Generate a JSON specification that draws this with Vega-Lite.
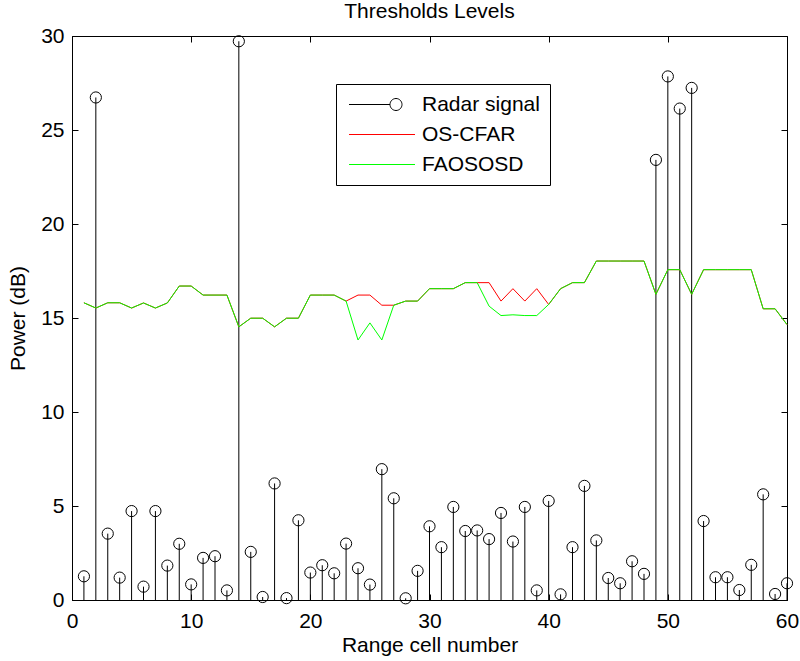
{
  "$schema": "https://vega.github.io/schema/vega-lite/v6.json",
  "width": 715,
  "height": 564,
  "autosize": {"type": "none"},
  "padding": {"left": 72, "top": 36, "right": 13, "bottom": 61},
  "background": "white",
  "title": {"text": "Thresholds Levels", "fontSize": 21, "font": "Liberation Sans", "fontWeight": "normal", "color": "black", "anchor": "middle", "baseline": "alphabetic", "offset": 0, "dy": 14, "frame": "group"},
  "config": {
    "font": "Liberation Sans",
    "view": {"stroke": "black", "strokeWidth": 1},
    "axis": {
      "grid": false,
      "domainColor": "black",
      "tickColor": "black",
      "tickWidth": 1,
      "tickSize": -6,
      "labelFontSize": 21,
      "labelColor": "black",
      "titleFontSize": 21,
      "titleFontWeight": "normal",
      "titleColor": "black",
      "labelFlush": false,
      "labelOverlap": false
    }
  },
  "datasets": {
    "radar": [
      {"cell": 1, "power": 1.26}, {"cell": 2, "power": 26.73}, {"cell": 3, "power": 3.53}, {"cell": 4, "power": 1.19},
      {"cell": 5, "power": 4.73}, {"cell": 6, "power": 0.71}, {"cell": 7, "power": 4.73}, {"cell": 8, "power": 1.83},
      {"cell": 9, "power": 2.99}, {"cell": 10, "power": 0.83}, {"cell": 11, "power": 2.24}, {"cell": 12, "power": 2.33},
      {"cell": 13, "power": 0.51}, {"cell": 14, "power": 29.72}, {"cell": 15, "power": 2.56}, {"cell": 16, "power": 0.16},
      {"cell": 17, "power": 6.2}, {"cell": 18, "power": 0.1}, {"cell": 19, "power": 4.24}, {"cell": 20, "power": 1.46},
      {"cell": 21, "power": 1.85}, {"cell": 22, "power": 1.42}, {"cell": 23, "power": 3.0}, {"cell": 24, "power": 1.69},
      {"cell": 25, "power": 0.82}, {"cell": 26, "power": 6.96}, {"cell": 27, "power": 5.41}, {"cell": 28, "power": 0.09},
      {"cell": 29, "power": 1.55}, {"cell": 30, "power": 3.92}, {"cell": 31, "power": 2.81}, {"cell": 32, "power": 4.95},
      {"cell": 33, "power": 3.67}, {"cell": 34, "power": 3.7}, {"cell": 35, "power": 3.24}, {"cell": 36, "power": 4.63},
      {"cell": 37, "power": 3.11}, {"cell": 38, "power": 4.95}, {"cell": 39, "power": 0.51}, {"cell": 40, "power": 5.27},
      {"cell": 41, "power": 0.3}, {"cell": 42, "power": 2.81}, {"cell": 43, "power": 6.07}, {"cell": 44, "power": 3.17},
      {"cell": 45, "power": 1.17}, {"cell": 46, "power": 0.89}, {"cell": 47, "power": 2.06}, {"cell": 48, "power": 1.39},
      {"cell": 49, "power": 23.41}, {"cell": 50, "power": 27.85}, {"cell": 51, "power": 26.14}, {"cell": 52, "power": 27.24},
      {"cell": 53, "power": 4.2}, {"cell": 54, "power": 1.21}, {"cell": 55, "power": 1.21}, {"cell": 56, "power": 0.53},
      {"cell": 57, "power": 1.87}, {"cell": 58, "power": 5.62}, {"cell": 59, "power": 0.32}, {"cell": 60, "power": 0.89}
    ],
    "thresholds": [
      {"cell": 1, "series": "OS-CFAR", "level": 15.81}, {"cell": 2, "series": "OS-CFAR", "level": 15.53},
      {"cell": 3, "series": "OS-CFAR", "level": 15.81}, {"cell": 4, "series": "OS-CFAR", "level": 15.81},
      {"cell": 5, "series": "OS-CFAR", "level": 15.53}, {"cell": 6, "series": "OS-CFAR", "level": 15.8},
      {"cell": 7, "series": "OS-CFAR", "level": 15.53}, {"cell": 8, "series": "OS-CFAR", "level": 15.8},
      {"cell": 9, "series": "OS-CFAR", "level": 16.7}, {"cell": 10, "series": "OS-CFAR", "level": 16.7},
      {"cell": 11, "series": "OS-CFAR", "level": 16.22}, {"cell": 12, "series": "OS-CFAR", "level": 16.22},
      {"cell": 13, "series": "OS-CFAR", "level": 16.22}, {"cell": 14, "series": "OS-CFAR", "level": 14.53},
      {"cell": 15, "series": "OS-CFAR", "level": 14.99}, {"cell": 16, "series": "OS-CFAR", "level": 14.99},
      {"cell": 17, "series": "OS-CFAR", "level": 14.53}, {"cell": 18, "series": "OS-CFAR", "level": 14.99},
      {"cell": 19, "series": "OS-CFAR", "level": 14.99}, {"cell": 20, "series": "OS-CFAR", "level": 16.22},
      {"cell": 21, "series": "OS-CFAR", "level": 16.22}, {"cell": 22, "series": "OS-CFAR", "level": 16.22},
      {"cell": 23, "series": "OS-CFAR", "level": 15.9}, {"cell": 24, "series": "OS-CFAR", "level": 16.22},
      {"cell": 25, "series": "OS-CFAR", "level": 16.22}, {"cell": 26, "series": "OS-CFAR", "level": 15.68},
      {"cell": 27, "series": "OS-CFAR", "level": 15.68}, {"cell": 28, "series": "OS-CFAR", "level": 15.9},
      {"cell": 29, "series": "OS-CFAR", "level": 15.9}, {"cell": 30, "series": "OS-CFAR", "level": 16.56},
      {"cell": 31, "series": "OS-CFAR", "level": 16.56}, {"cell": 32, "series": "OS-CFAR", "level": 16.56},
      {"cell": 33, "series": "OS-CFAR", "level": 16.88}, {"cell": 34, "series": "OS-CFAR", "level": 16.88},
      {"cell": 35, "series": "OS-CFAR", "level": 16.88}, {"cell": 36, "series": "OS-CFAR", "level": 15.9},
      {"cell": 37, "series": "OS-CFAR", "level": 16.56}, {"cell": 38, "series": "OS-CFAR", "level": 15.9},
      {"cell": 39, "series": "OS-CFAR", "level": 16.56}, {"cell": 40, "series": "OS-CFAR", "level": 15.72},
      {"cell": 41, "series": "OS-CFAR", "level": 16.56}, {"cell": 42, "series": "OS-CFAR", "level": 16.88},
      {"cell": 43, "series": "OS-CFAR", "level": 16.88}, {"cell": 44, "series": "OS-CFAR", "level": 18.03},
      {"cell": 45, "series": "OS-CFAR", "level": 18.03}, {"cell": 46, "series": "OS-CFAR", "level": 18.03},
      {"cell": 47, "series": "OS-CFAR", "level": 18.03}, {"cell": 48, "series": "OS-CFAR", "level": 18.03},
      {"cell": 49, "series": "OS-CFAR", "level": 16.26}, {"cell": 50, "series": "OS-CFAR", "level": 17.57},
      {"cell": 51, "series": "OS-CFAR", "level": 17.57}, {"cell": 52, "series": "OS-CFAR", "level": 16.26},
      {"cell": 53, "series": "OS-CFAR", "level": 17.57}, {"cell": 54, "series": "OS-CFAR", "level": 17.57},
      {"cell": 55, "series": "OS-CFAR", "level": 17.57}, {"cell": 56, "series": "OS-CFAR", "level": 17.57},
      {"cell": 57, "series": "OS-CFAR", "level": 17.57}, {"cell": 58, "series": "OS-CFAR", "level": 15.49},
      {"cell": 59, "series": "OS-CFAR", "level": 15.49}, {"cell": 60, "series": "OS-CFAR", "level": 14.65},
      {"cell": 1, "series": "FAOSOSD", "level": 15.81}, {"cell": 2, "series": "FAOSOSD", "level": 15.53},
      {"cell": 3, "series": "FAOSOSD", "level": 15.81}, {"cell": 4, "series": "FAOSOSD", "level": 15.81},
      {"cell": 5, "series": "FAOSOSD", "level": 15.53}, {"cell": 6, "series": "FAOSOSD", "level": 15.8},
      {"cell": 7, "series": "FAOSOSD", "level": 15.53}, {"cell": 8, "series": "FAOSOSD", "level": 15.8},
      {"cell": 9, "series": "FAOSOSD", "level": 16.7}, {"cell": 10, "series": "FAOSOSD", "level": 16.7},
      {"cell": 11, "series": "FAOSOSD", "level": 16.22}, {"cell": 12, "series": "FAOSOSD", "level": 16.22},
      {"cell": 13, "series": "FAOSOSD", "level": 16.22}, {"cell": 14, "series": "FAOSOSD", "level": 14.53},
      {"cell": 15, "series": "FAOSOSD", "level": 14.99}, {"cell": 16, "series": "FAOSOSD", "level": 14.99},
      {"cell": 17, "series": "FAOSOSD", "level": 14.53}, {"cell": 18, "series": "FAOSOSD", "level": 14.99},
      {"cell": 19, "series": "FAOSOSD", "level": 14.99}, {"cell": 20, "series": "FAOSOSD", "level": 16.22},
      {"cell": 21, "series": "FAOSOSD", "level": 16.22}, {"cell": 22, "series": "FAOSOSD", "level": 16.22},
      {"cell": 23, "series": "FAOSOSD", "level": 15.9}, {"cell": 24, "series": "FAOSOSD", "level": 13.83},
      {"cell": 25, "series": "FAOSOSD", "level": 14.74}, {"cell": 26, "series": "FAOSOSD", "level": 13.83},
      {"cell": 27, "series": "FAOSOSD", "level": 15.68}, {"cell": 28, "series": "FAOSOSD", "level": 15.9},
      {"cell": 29, "series": "FAOSOSD", "level": 15.9}, {"cell": 30, "series": "FAOSOSD", "level": 16.56},
      {"cell": 31, "series": "FAOSOSD", "level": 16.56}, {"cell": 32, "series": "FAOSOSD", "level": 16.56},
      {"cell": 33, "series": "FAOSOSD", "level": 16.88}, {"cell": 34, "series": "FAOSOSD", "level": 16.88},
      {"cell": 35, "series": "FAOSOSD", "level": 15.63}, {"cell": 36, "series": "FAOSOSD", "level": 15.13},
      {"cell": 37, "series": "FAOSOSD", "level": 15.17}, {"cell": 38, "series": "FAOSOSD", "level": 15.13},
      {"cell": 39, "series": "FAOSOSD", "level": 15.13}, {"cell": 40, "series": "FAOSOSD", "level": 15.72},
      {"cell": 41, "series": "FAOSOSD", "level": 16.56}, {"cell": 42, "series": "FAOSOSD", "level": 16.88},
      {"cell": 43, "series": "FAOSOSD", "level": 16.88}, {"cell": 44, "series": "FAOSOSD", "level": 18.03},
      {"cell": 45, "series": "FAOSOSD", "level": 18.03}, {"cell": 46, "series": "FAOSOSD", "level": 18.03},
      {"cell": 47, "series": "FAOSOSD", "level": 18.03}, {"cell": 48, "series": "FAOSOSD", "level": 18.03},
      {"cell": 49, "series": "FAOSOSD", "level": 16.26}, {"cell": 50, "series": "FAOSOSD", "level": 17.57},
      {"cell": 51, "series": "FAOSOSD", "level": 17.57}, {"cell": 52, "series": "FAOSOSD", "level": 16.26},
      {"cell": 53, "series": "FAOSOSD", "level": 17.57}, {"cell": 54, "series": "FAOSOSD", "level": 17.57},
      {"cell": 55, "series": "FAOSOSD", "level": 17.57}, {"cell": 56, "series": "FAOSOSD", "level": 17.57},
      {"cell": 57, "series": "FAOSOSD", "level": 17.57}, {"cell": 58, "series": "FAOSOSD", "level": 15.49},
      {"cell": 59, "series": "FAOSOSD", "level": 15.49}, {"cell": 60, "series": "FAOSOSD", "level": 14.65}
    ]
  },
  "resolve": {"axis": {"x": "independent", "y": "independent"}},
  "layer": [
    {
      "data": {"name": "radar"},
      "mark": {"type": "rule", "color": "black", "strokeWidth": 1},
      "encoding": {
        "x": {"field": "cell", "type": "quantitative", "scale": {"domain": [0, 60], "nice": false, "zero": false},
              "axis": {"values": [0, 10, 20, 30, 40, 50, 60], "title": "Range cell number", "labelPadding": 16, "titlePadding": 3, "format": "d"}},
        "y": {"field": "power", "type": "quantitative", "scale": {"domain": [0, 30], "nice": false},
              "axis": {"values": [0, 5, 10, 15, 20, 25, 30], "title": "Power (dB)", "labelPadding": 14, "titlePadding": 12, "format": "d"}},
        "y2": {"datum": 0}
      }
    },
    {
      "data": {"name": "radar"},
      "mark": {"type": "point", "shape": "circle", "filled": false, "size": 125, "stroke": "black", "strokeWidth": 1, "opacity": 1},
      "encoding": {
        "x": {"field": "cell", "type": "quantitative",
              "axis": {"orient": "top", "values": [0, 10, 20, 30, 40, 50, 60], "labels": false, "title": null, "domain": false}},
        "y": {"field": "power", "type": "quantitative",
              "axis": {"orient": "right", "values": [0, 5, 10, 15, 20, 25, 30], "labels": false, "title": null, "domain": false}}
      }
    },
    {
      "data": {"name": "thresholds"},
      "transform": [{"filter": "datum.series === 'OS-CFAR'"}],
      "mark": {"type": "line", "strokeWidth": 1},
      "encoding": {
        "x": {"field": "cell", "type": "quantitative", "axis": null},
        "y": {"field": "level", "type": "quantitative", "axis": null},
        "color": {
          "field": "series", "type": "nominal",
          "scale": {"domain": ["Radar signal", "OS-CFAR", "FAOSOSD"], "range": ["black", "#ff0000", "#00ff00"]},
          "legend": {
            "title": null, "orient": "none", "legendX": 264, "legendY": 48,
            "strokeColor": "black", "fillColor": "white", "padding": 10,
            "symbolSize": 400, "symbolStrokeWidth": 1, "labelOffset": 55, "rowPadding": 8,
            "labelFontSize": 21, "labelColor": "black", "labelLimit": 300,
            "encode": {
              "symbols": {
                "update": {
                  "shape": {"signal": "datum.value === 'Radar signal' ? 'M-0.75,0L3.35,0M3.35,0A0.6,0.6,0,1,1,4.55,0A0.6,0.6,0,1,1,3.35,0' : 'M-0.75,0L5.85,0'"},
                  "fill": {"value": "transparent"}
                }
              }
            }
          }
        }
      }
    },
    {
      "data": {"name": "thresholds"},
      "transform": [{"filter": "datum.series === 'FAOSOSD'"}],
      "mark": {"type": "line", "strokeWidth": 1},
      "encoding": {
        "x": {"field": "cell", "type": "quantitative", "axis": null},
        "y": {"field": "level", "type": "quantitative", "axis": null},
        "color": {"field": "series", "type": "nominal"}
      }
    }
  ]
}
